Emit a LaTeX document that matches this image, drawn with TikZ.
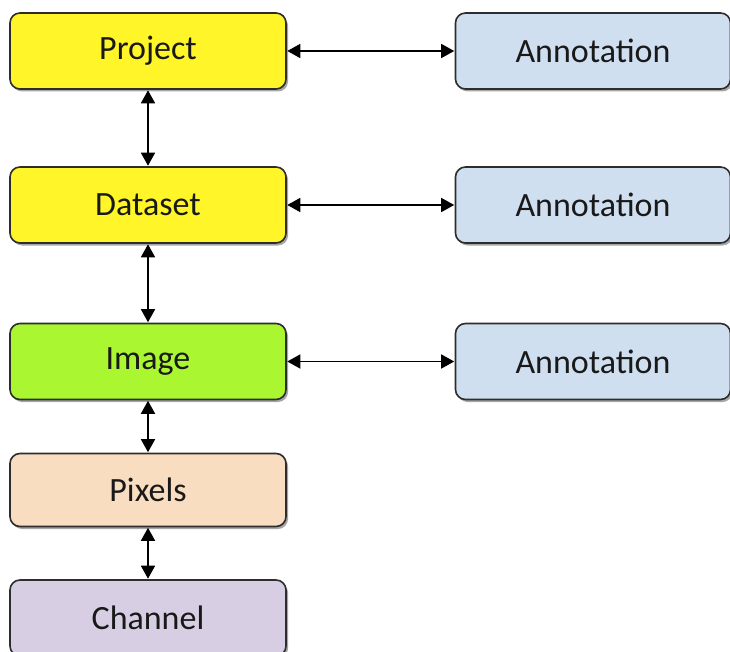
\documentclass[tikz,border=0pt]{standalone}
\usepackage{fontspec}
\setmainfont{Carlito}
\usetikzlibrary{arrows.meta,shadows}
\definecolor{cyellow}{RGB}{255,245,40}
\definecolor{cgreen}{RGB}{170,246,48}
\definecolor{cpeach}{RGB}{249,221,192}
\definecolor{cblue}{RGB}{208,223,240}
\definecolor{clav}{RGB}{215,206,227}
\definecolor{cedge}{RGB}{45,45,45}
\definecolor{ctext}{RGB}{25,25,25}
\tikzset{
  box/.style={draw=cedge, line width=1.6pt, rounded corners=10pt, minimum width=276pt,
    inner sep=0pt, text=ctext, font=\fontsize{34}{40}\selectfont,
    drop shadow={shadow xshift=2pt, shadow yshift=-2.5pt, opacity=0.35, fill=black}},
  link/.style={line width=1.6pt, {Triangle[length=13pt,width=14pt]}-{Triangle[length=13pt,width=14pt]}, shorten <=0.5pt, shorten >=0.5pt}
}
\begin{document}
\begin{tikzpicture}[x=1pt,y=-1pt]
\useasboundingbox (0,0) rectangle (730,652);
\begin{scope}
\clip (0,0) rectangle (730,652);
\node[box, fill=cyellow, minimum height=76pt] (proj) at (148,51) {Project};
\node[box, fill=cyellow, minimum height=76pt] (data) at (148,205) {Dataset};
\node[box, fill=cgreen, minimum height=76pt] (img) at (148,361.5) {Image};
\node[box, fill=cpeach, minimum height=73pt] (pix) at (148,490) {Pixels};
\node[box, fill=clav, minimum height=76pt] (chan) at (148,618) {Channel};
\node[box, fill=cblue, minimum height=76pt, minimum width=275pt] (a1) at (593,51) {Annotation};
\node[box, fill=cblue, minimum height=76pt, minimum width=275pt] (a2) at (593,205) {Annotation};
\node[box, fill=cblue, minimum height=76pt, minimum width=275pt] (a3) at (593,361.5) {Annotation};
\end{scope}
\draw[link] (proj.south) -- (data.north);
\draw[link] (data.south) -- (img.north);
\draw[link] (img.south) -- (pix.north);
\draw[link] (pix.south) -- (chan.north);
\draw[link] (proj.east) -- (a1.west);
\draw[link] (data.east) -- (a2.west);
\draw[link] (img.east) -- (a3.west);
\end{tikzpicture}
\end{document}
